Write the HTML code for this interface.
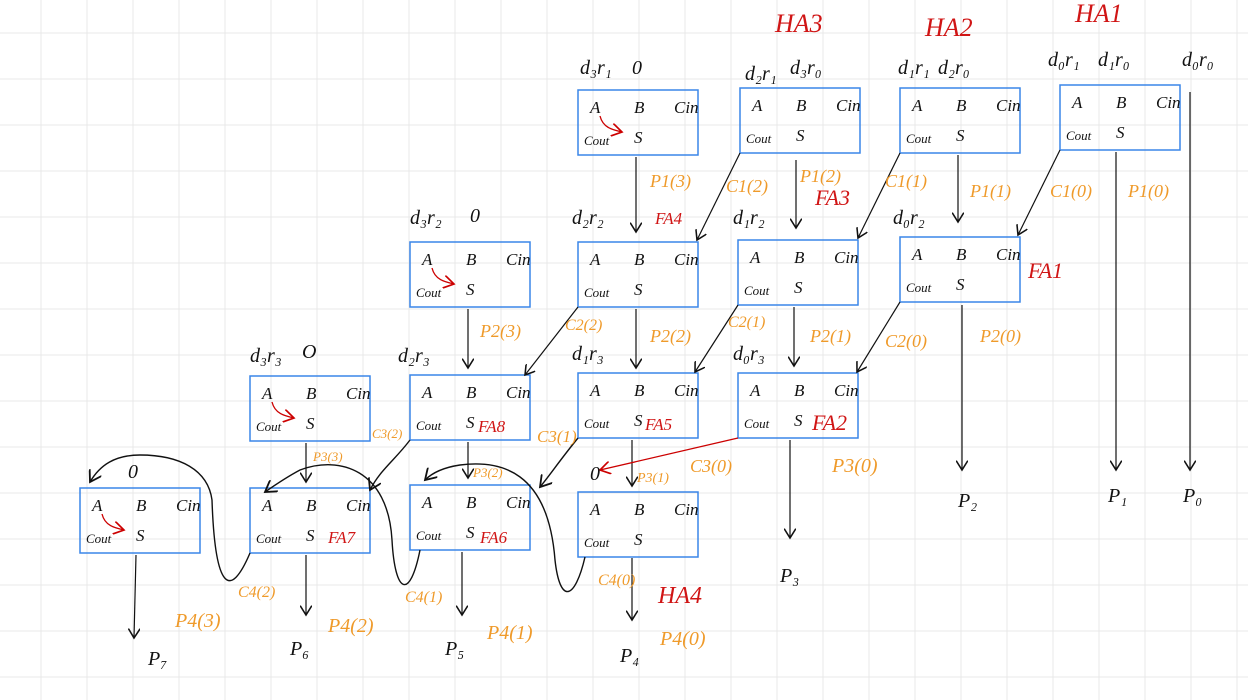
<!DOCTYPE html>
<html><head><meta charset="utf-8"><style>
html,body{margin:0;padding:0;background:#fff;}
svg{display:block;}
text{font-family:"Liberation Serif",serif;font-style:italic;}
</style></head><body>
<svg id="s" width="1248" height="700" viewBox="0 0 1248 700" xmlns="http://www.w3.org/2000/svg">
<defs><marker id="ah" markerWidth="10" markerHeight="10" refX="8" refY="5" orient="auto"><path d="M0,0 L8,5 L0,10" fill="none" stroke="#111" stroke-width="1.3"/></marker>
<marker id="ahr" markerWidth="10" markerHeight="10" refX="8" refY="5" orient="auto"><path d="M0,0 L8,5 L0,10" fill="none" stroke="#c00" stroke-width="1.3"/></marker></defs>
<g id="grid"></g>
<g id="boxes"></g>
<g id="wires"></g>
<g id="labels"></g>
</svg>
<script>
const NS="http://www.w3.org/2000/svg";
const boxPos=[[578,90],[740,88],[900,88],[1060,85],[410,242],[578,242],[738,240],[900,237],[250,376],[410,375],[578,373],[738,373],[80,488],[250,488],[410,485],[578,492]];
const halfAdders=[0,4,8,12];
const blackLabels=[["d₃r₁",580,74],["0",632,74],["d₂r₁",745,80],["d₃r₀",790,74],["d₁r₁",898,74],["d₂r₀",938,74],["d₀r₁",1048,66],["d₁r₀",1098,66],["d₀r₀",1182,66],["d₃r₂",410,224],["0",470,222],["d₂r₂",572,224],["d₁r₂",733,224],["d₀r₂",893,224],["d₃r₃",250,362],["O",302,358],["d₂r₃",398,362],["d₁r₃",572,360],["d₀r₃",733,360],["0",128,478],["0",590,480],["P₇",148,665],["P₆",290,655],["P₅",445,655],["P₄",620,662],["P₃",780,582],["P₂",958,507],["P₁",1108,502],["P₀",1183,502]];
const redLabels=[["HA3",775,32,26],["HA2",925,36,26],["HA1",1075,22,26],["FA4",655,224,17],["FA3",815,205,22],["FA1",1028,278,22],["FA8",478,432,17],["FA5",645,430,17],["FA2",812,430,22],["FA7",328,543,17],["FA6",480,543,17],["HA4",658,603,24]];
const orangeLabels=[["P1(3)",650,187,18],["C1(2)",726,192,18],["P1(2)",800,182,18],["C1(1)",885,187,18],["P1(1)",970,197,18],["C1(0)",1050,197,18],["P1(0)",1128,197,18],["P2(3)",480,337,18],["C2(2)",565,330,16],["P2(2)",650,342,18],["C2(1)",728,327,16],["P2(1)",810,342,18],["C2(0)",885,347,18],["P2(0)",980,342,18],["C3(2)",372,438,13],["C3(1)",537,442,17],["P3(3)",313,461,13],["P3(2)",473,477,13],["P3(1)",637,482,14],["C3(0)",690,472,18],["P3(0)",832,472,20],["C4(2)",238,597,16],["C4(1)",405,602,16],["C4(0)",598,585,16],["P4(3)",175,627,20],["P4(2)",328,632,20],["P4(1)",487,639,20],["P4(0)",660,645,20]];
const arrows=[[636,157,636,232],[796,160,796,228],[958,155,958,222],[1116,152,1116,470],[1190,92,1190,470],[740,153,697,240],[900,153,858,238],[1060,150,1018,235],[468,309,468,368],[636,309,636,368],[794,307,794,366],[962,305,962,470],[578,307,525,375],[738,305,695,372],[900,302,857,372],[790,440,790,538],[306,443,306,482],[468,442,468,478],[632,440,632,486],[136,555,134,638],[306,555,306,615],[462,552,462,615],[632,558,632,620]];
const curves=["M250,553 C230,600 215,590 212,500 C208,470 180,455 140,455 C115,455 100,465 90,482","M410,440 C395,460 380,470 370,490","M578,438 C560,460 550,475 540,487","M420,550 C410,600 395,595 392,540 C388,470 340,455 300,470 C285,478 275,485 265,492","M585,557 C575,600 560,605 555,560 C548,470 500,460 460,465 C440,468 430,475 425,480"];
function el(t,a,p){const e=document.createElementNS(NS,t);for(const k in a)e.setAttribute(k,a[k]);p.appendChild(e);return e;}
const g=document.getElementById('grid');
for(let x=41-46;x<1248;x+=46){const l=el('line',{x1:x,y1:0,x2:x,y2:700,stroke:'#e8e8e8','stroke-width':1},g);}
for(let y=33;y<700;y+=46){const l=el('line',{x1:0,y1:y,x2:1248,y2:y,stroke:'#e8e8e8','stroke-width':1},g);}
const bg=document.getElementById('boxes');
boxPos.forEach((p,i)=>{const [x,y]=p;
 const r=el('rect',{x:x,y:y,width:120,height:65,fill:'none',stroke:'#3a86e8','stroke-width':1.5},bg);
 
 [["A",x+12,y+23],["B",x+56,y+23],["Cin",x+96,y+23],["Cout",x+6,y+55],["S",x+56,y+53]].forEach(t=>{
  const tx=el('text',{x:t[1],y:t[2],'font-size':t[0]=="Cout"?13:17,fill:'#111'},bg);tx.textContent=t[0];
  });
 if(halfAdders.includes(i)){const c=el('path',{d:`M${x+22},${y+26} C${x+25},${y+38} ${x+35},${y+40} ${x+44},${y+42}`,fill:'none',stroke:'#c00','stroke-width':1.3,'marker-end':'url(#ahr)'},bg);
  }
});
const wg=document.getElementById('wires');
arrows.forEach(a=>{const l=el('line',{x1:a[0],y1:a[1],x2:a[2],y2:a[3],stroke:'#111','stroke-width':1.2,'marker-end':'url(#ah)'},wg);
 });
curves.forEach(d=>{const c=el('path',{d:d,fill:'none',stroke:'#111','stroke-width':1.4,'marker-end':'url(#ah)'},wg);
 });
const rl=el('line',{x1:738,y1:438,x2:600,y2:470,stroke:'#c00','stroke-width':1.3,'marker-end':'url(#ahr)'},wg);

const lg=document.getElementById('labels');
blackLabels.forEach(t=>{const e=el('text',{x:t[1],y:t[2],'font-size':20,fill:'#111'},lg);e.textContent=t[0];
 });
redLabels.forEach(t=>{const e=el('text',{x:t[1],y:t[2],'font-size':t[3],fill:'#d01515'},lg);e.textContent=t[0];
 });
orangeLabels.forEach(t=>{const e=el('text',{x:t[1],y:t[2],'font-size':t[3],fill:'#ef9a2a'},lg);e.textContent=t[0];
 });
</script>
</body></html>
